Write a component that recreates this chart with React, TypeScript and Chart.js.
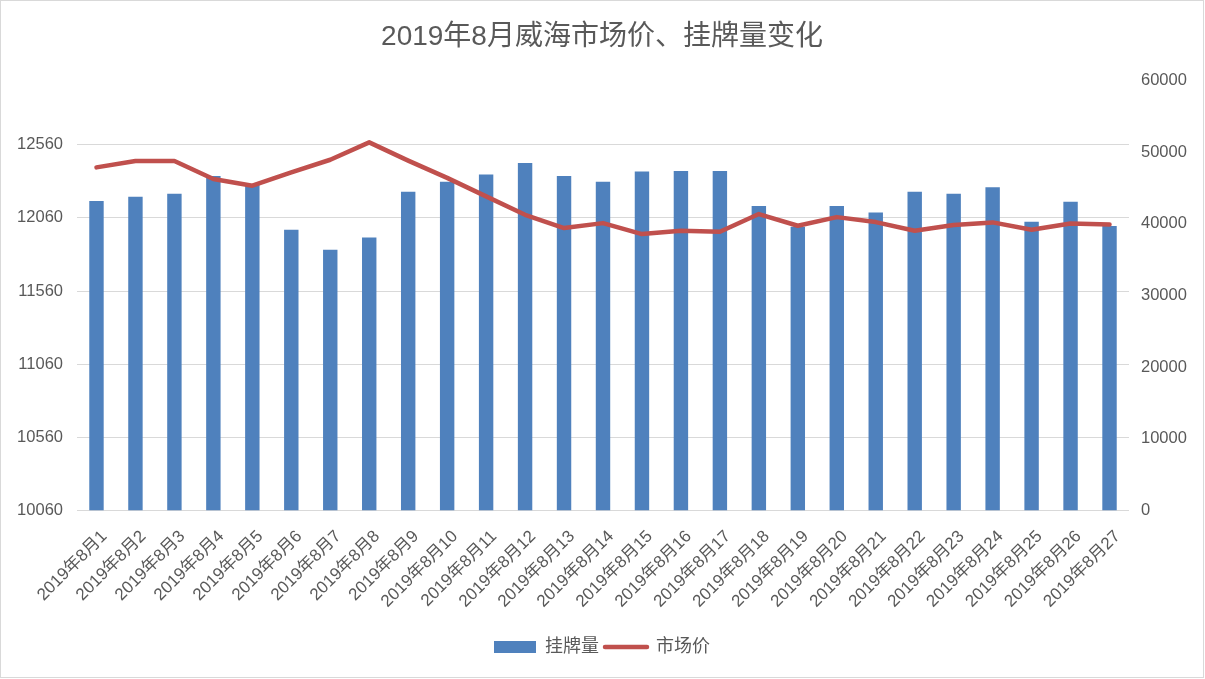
import React, { useEffect, useRef } from "react";
import { Chart, registerables } from "chart.js";

Chart.register(...registerables);

const categories = [
  "2019年8月1", "2019年8月2", "2019年8月3", "2019年8月4", "2019年8月5", "2019年8月6",
  "2019年8月7", "2019年8月8", "2019年8月9", "2019年8月10", "2019年8月11", "2019年8月12",
  "2019年8月13", "2019年8月14", "2019年8月15", "2019年8月16", "2019年8月17", "2019年8月18",
  "2019年8月19", "2019年8月20", "2019年8月21", "2019年8月22", "2019年8月23", "2019年8月24",
  "2019年8月25", "2019年8月26", "2019年8月27",
];

const listingCounts = [
  43200, 43800, 44200, 46700, 45500, 39200, 36400, 38100, 44500, 45900, 46900, 48500,
  46700, 45900, 47300, 47400, 47400, 42500, 39600, 42500, 41600, 44500, 44200, 45100,
  40300, 43100, 39700,
];

const marketPrices = [
  12405, 12449, 12449, 12325, 12280, 12371, 12457, 12576, 12451, 12333, 12207, 12081,
  11990, 12024, 11949, 11972, 11965, 12086, 12006, 12065, 12031, 11972, 12011, 12029,
  11979, 12022, 12015,
];

const priceTicks = [10060, 10560, 11060, 11560, 12060, 12560];
const listingTicks = [0, 10000, 20000, 30000, 40000, 50000, 60000];

const titleText = "2019年8月威海市场价、挂牌量变化";
const listingLabel = "挂牌量";
const priceLabel = "市场价";

const FONT = '"Liberation Sans", "Noto Sans CJK SC", sans-serif';
const TEXT = "#595959";
const GRID = "#D9D9D9";
const BLUE = "#4F81BD";
const RED = "#C0504D";

export default function App() {
  const ref = useRef<HTMLCanvasElement>(null);

  useEffect(() => {
    document.body.style.margin = "0";
    const canvas = ref.current!;
    const chart = new Chart(canvas, {
      type: "bar",
      data: {
        labels: categories,
        datasets: [
          {
            type: "bar",
            label: listingLabel,
            data: listingCounts,
            yAxisID: "y1",
            backgroundColor: BLUE,
            borderWidth: 0,
            barPercentage: 0.37,
            categoryPercentage: 1,
            order: 2,
          } as any,
          {
            type: "line",
            label: priceLabel,
            data: marketPrices,
            yAxisID: "y",
            borderColor: RED,
            backgroundColor: RED,
            borderWidth: 4.5,
            pointRadius: 0,
            pointHoverRadius: 0,
            tension: 0,
            borderJoinStyle: "round",
            borderCapStyle: "round",
            order: 1,
          } as any,
        ],
      },
      options: {
        responsive: false,
        animation: false,
        layout: { padding: { left: 0, right: 0, top: 0, bottom: 11 } },
        plugins: {
          title: {
            display: true,
            text: titleText,
            color: TEXT,
            font: { family: FONT, size: 28, weight: "normal" },
            padding: { top: 19, bottom: 27 },
          },
          legend: {
            position: "bottom",
            labels: {
              usePointStyle: true,
              pointStyleWidth: 42,
              boxHeight: 12,
              color: TEXT,
              font: { family: FONT, size: 18 },
              padding: 6,
              generateLabels: () => [
                {
                  text: listingLabel,
                  fillStyle: BLUE,
                  strokeStyle: BLUE,
                  lineWidth: 0,
                  pointStyle: "rect",
                  datasetIndex: 0,
                  hidden: false,
                  fontColor: TEXT,
                } as any,
                {
                  text: priceLabel,
                  fillStyle: RED,
                  strokeStyle: RED,
                  lineWidth: 4.5,
                  lineCap: "round",
                  pointStyle: "line",
                  datasetIndex: 1,
                  hidden: false,
                  fontColor: TEXT,
                } as any,
              ],
            },
          },
          tooltip: { enabled: false },
        },
        scales: {
          x: {
            grid: { display: false },
            border: { display: false },
            ticks: {
              color: TEXT,
              font: { family: FONT, size: 17 },
              autoSkip: false,
              maxRotation: 45,
              minRotation: 45,
              labelOffset: 8,
              padding: 8,
            },
            afterFit: (s: any) => {
              s.height = 121.5;
            },
          },
          y: {
            position: "left",
            min: 10060,
            max: 12998,
            afterBuildTicks: (s: any) => {
              s.ticks = priceTicks.map((v) => ({ value: v }));
            },
            afterFit: (s: any) => {
              s.width = 76;
            },
            grid: { color: GRID, lineWidth: 1, drawTicks: false },
            border: { display: false },
            ticks: {
              color: TEXT,
              font: { family: FONT, size: 16.5 },
              padding: 14,
              callback: (v: any) => String(v),
            },
          },
          y1: {
            position: "right",
            min: 0,
            max: 60000,
            afterBuildTicks: (s: any) => {
              s.ticks = listingTicks.map((v) => ({ value: v }));
            },
            afterFit: (s: any) => {
              s.width = 74;
            },
            grid: { display: false, drawTicks: false },
            border: { display: false },
            ticks: {
              color: TEXT,
              font: { family: FONT, size: 16.5 },
              padding: 12,
              callback: (v: any) => String(v),
            },
          },
        },
      },
    });
    return () => chart.destroy();
  }, []);

  return (
    <div
      style={{
        width: 1204,
        height: 678,
        border: "1px solid #D9D9D9",
        boxSizing: "border-box",
        background: "#fff",
      }}
    >
      <canvas ref={ref} width={1202} height={676} style={{ display: "block" }} />
    </div>
  );
}
